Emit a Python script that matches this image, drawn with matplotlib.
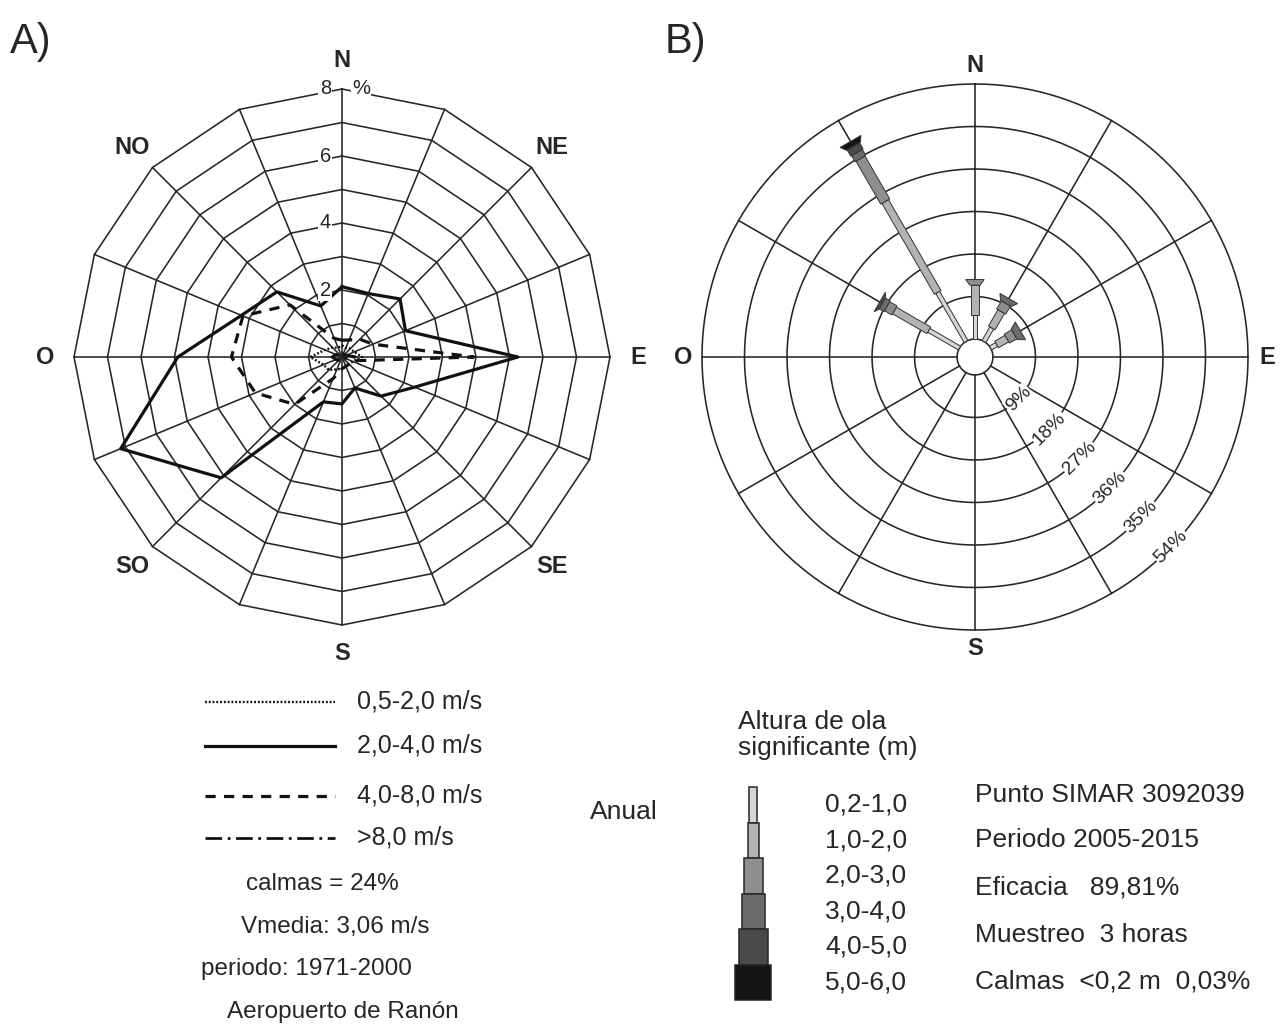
import numpy as np
import matplotlib.pyplot as plt
from matplotlib.patches import Polygon, Rectangle
from matplotlib.transforms import offset_copy

plt.rcParams['font.family'] = ['Liberation Sans', 'DejaVu Sans']

# A) wind rose, Aeropuerto de Ranon: % per sector, 16 sectors clockwise from N
wind_dirs = ['N', 'NNE', 'NE', 'ENE', 'E', 'ESE', 'SE', 'SSE',
             'S', 'SSO', 'SO', 'OSO', 'O', 'ONO', 'NO', 'NNO']
wind_05_20 = [0.35, 0.3, 0.35, 0.4, 0.6, 0.35, 0.3, 0.3,
              0.35, 0.4, 0.55, 0.6, 0.95, 0.55, 0.4, 0.3]
wind_20_40 = [2.1, 2.05, 2.45, 2.05, 5.25, 2.35, 1.65, 1.0,
              1.4, 1.45, 5.1, 7.15, 4.9, 3.25, 2.75, 1.65]
wind_40_80 = [0.5, 0.55, 0.75, 1.0, 3.93, 0.3, 0.3, 0.3,
              0.35, 0.7, 2.0, 2.8, 3.3, 3.2, 2.2, 0.6]
wind_gt_80 = [0.1, 0.1, 0.1, 0.15, 0.4, 0.1, 0.1, 0.1,
              0.1, 0.1, 0.15, 0.2, 0.3, 0.2, 0.1, 0.1]
wind_labels = ['0,5-2,0 m/s', '2,0-4,0 m/s', '4,0-8,0 m/s', '>8,0 m/s']
compass_a = ['N', 'NE', 'E', 'SE', 'S', 'SO', 'O', 'NO']
ring_ticks_a = [2, 4, 6, 8]
notes_a = ['calmas = 24%', 'Vmedia: 3,06 m/s', 'periodo: 1971-2000',
           'Aeropuerto de Ranón']

# B) wave rose, Punto SIMAR 3092039: % per direction split by wave height class
wave_dirs = [0, 30, 60, 300, 330]  # degrees clockwise from N
h_02_10 = [5.1, 3.3, 1.5, 7.5, 12.0]
h_10_20 = [6.3, 4.0, 2.5, 8.4, 22.2]
h_20_30 = [1.2, 2.0, 1.8, 1.8, 10.5]
h_30_40 = [0.0, 1.2, 1.5, 1.2, 1.5]
h_40_50 = [0.0, 0.0, 0.0, 0.6, 1.5]
h_50_60 = [0.0, 0.0, 0.0, 0.0, 1.2]
wave_classes = ['0,2-1,0', '1,0-2,0', '2,0-3,0', '3,0-4,0', '4,0-5,0', '5,0-6,0']
ring_vals_b = [9, 18, 27, 36, 45, 54]
ring_labels_b = ['9%', '18%', '27%', '36%', '35%', '54%']
compass_b = ['N', 'E', 'S', 'O']
info_b = ['Punto SIMAR 3092039', 'Periodo 2005-2015', 'Eficacia   89,81%',
          'Muestreo  3 horas', 'Calmas  <0,2 m  0,03%']

INK = '#262626'
GRAYS = ['#d6d6d6', '#b3b3b3', '#8e8e8e', '#6b6b6b', '#4a4a4a', '#141414']

W, H = 1280, 1026
fig = plt.figure(figsize=(W / 100, H / 100), dpi=100)


def box(cx, cy, r):
    return [(cx - r) / W, 1 - (cy + r) / H, 2 * r / W, 2 * r / H]


# overlay in pixel units for the free texts and legends
lay = fig.add_axes([0, 0, 1, 1])
lay.set_xlim(0, W)
lay.set_ylim(H, 0)
lay.axis('off')

# ---------------- A) ----------------
axA = fig.add_axes(box(342, 357, 268), projection='polar')
axA.set_theta_zero_location('N')
axA.set_theta_direction(-1)
axA.set_ylim(0, 8)
axA.axis('off')

th = np.deg2rad(np.arange(16) * 22.5)
th_c = np.append(th, th[0])
for k in range(1, 9):
    axA.plot(th_c, [k] * 17, color=INK, lw=1.15, zorder=1, clip_on=False)
for t in th:
    axA.plot([t, t], [0, 8], color=INK, lw=1.15, zorder=1, clip_on=False)

series = [wind_05_20, wind_20_40, wind_40_80, wind_gt_80]
styles = [((0, (0.8, 0.8)), 1.7), ('-', 2.3), ((0, (3.2, 2.6)), 2.3),
          ((0, (6, 2, 1, 2)), 2.0)]
for vals, (ls, lw) in zip(series, styles):
    axA.plot(th_c, np.append(vals, vals[0]), color='#111111', ls=ls, lw=lw,
             zorder=3, clip_on=False)

lab_box = dict(fc='white', ec='none', pad=1.0)
left_tr = offset_copy(axA.transData, fig, x=-11, y=0, units='dots')
right_tr = offset_copy(axA.transData, fig, x=10, y=0, units='dots')
for k in ring_ticks_a:
    axA.text(0, k, str(k), transform=left_tr, ha='right', va='center',
             fontsize=14.5, color=INK, bbox=lab_box, zorder=5)
axA.text(0, 8, '%', transform=right_tr, ha='left', va='center',
         fontsize=14.5, color=INK, bbox=lab_box, zorder=5)

for i, name in enumerate(compass_a):
    axA.text(np.deg2rad(i * 45), 8.85, name, ha='center', va='center',
             fontsize=17, fontweight='bold', color=INK, clip_on=False)

# legend A
leg_y = [702, 746, 796, 838]
for (ls, lw), y, lab in zip(styles, leg_y, wind_labels):
    lay.plot([205, 335], [y, y], color='#111111', ls=ls, lw=lw)
    lay.text(357, y, lab, ha='left', va='center', fontsize=18, color=INK)
for (x, y), txt in zip([(322, 884), (335, 927), (306, 969), (343, 1012)], notes_a):
    lay.text(x, y, txt, ha='center', va='center', fontsize=17.5, color=INK)

# ---------------- B) ----------------
R0 = -3.8
axB = fig.add_axes(box(975, 357, 273), projection='polar')
axB.set_theta_zero_location('N')
axB.set_theta_direction(-1)
axB.set_rorigin(R0)
axB.set_ylim(0, 54)
axB.axis('off')

circ = np.linspace(0, 2 * np.pi, 361)
for v in ring_vals_b:
    axB.plot(circ, [v] * 361, color=INK, lw=1.15, zorder=1, clip_on=False)
axB.plot(circ, [0] * 361, color=INK, lw=1.15, zorder=1, clip_on=False)
for t in np.deg2rad(np.arange(0, 360, 30)):
    axB.plot([t, t], [0, 54], color=INK, lw=1.15, zorder=1, clip_on=False)

for v, lab in zip(ring_vals_b, ring_labels_b):
    axB.text(np.deg2rad(134), v, lab, rotation=45, ha='center', va='center',
             fontsize=14, color=INK, rotation_mode='anchor',
             bbox=dict(fc='white', ec='none', pad=0.5), zorder=5)

u_per_px = (54 - R0) / 273
half_w = [2.2, 3.8, 5.2, 6.2, 7.2, 8.0]


def seg(theta, r0, r1, h0, h1):
    pts = []
    for r, h, s in [(r0, h0, -1), (r1, h1, -1), (r1, h1, 1), (r0, h0, 1)]:
        u = r - R0
        hu = h * u_per_px
        pts.append((theta + s * np.arctan2(hu, u), np.hypot(u, hu) + R0))
    return pts


classes = [h_02_10, h_10_20, h_20_30, h_30_40, h_40_50, h_50_60]
for i, d in enumerate(wave_dirs):
    t = np.deg2rad(d)
    vals = [c[i] for c in classes]
    last = max(j for j, v in enumerate(vals) if v > 0)
    cum = 0.0
    for j, v in enumerate(vals):
        if v <= 0:
            continue
        h1 = half_w[j] + 4 if j == last else half_w[j]
        axB.add_patch(Polygon(seg(t, cum, cum + v, half_w[j], h1), closed=True,
                              fc=GRAYS[j], ec='#333333', lw=0.7, zorder=4))
        cum += v

for i, name in enumerate(compass_b):
    axB.text(np.deg2rad(i * 90), 58, name, ha='center', va='center',
             fontsize=17, fontweight='bold', color=INK, clip_on=False)

# legend B
fs_b = 19
lay.text(738, 722, 'Altura de ola', ha='left', va='center', fontsize=fs_b, color=INK)
lay.text(738, 748, 'significante (m)', ha='left', va='center', fontsize=fs_b, color=INK)
lay.text(590, 812, 'Anual', ha='left', va='center', fontsize=fs_b, color=INK)
leg_w = [8, 11, 19, 23, 29, 36]
step = 35.5
for j, lab in enumerate(wave_classes):
    y0 = 787 + j * step
    lay.add_patch(Rectangle((753 - leg_w[j] / 2, y0), leg_w[j], step,
                            fc=GRAYS[j], ec=INK, lw=1.1))
    lay.text(825, y0 + step / 2, lab, ha='left', va='center', fontsize=fs_b, color=INK)
for y, txt in zip([795, 840, 887, 935, 981], info_b):
    lay.text(975, y, txt, ha='left', va='center', fontsize=fs_b, color=INK)

lay.text(10, 42, 'A)', ha='left', va='center', fontsize=30, color=INK)
lay.text(665, 42, 'B)', ha='left', va='center', fontsize=30, color=INK)

fig.savefig('out.png', dpi=100, facecolor='white')
